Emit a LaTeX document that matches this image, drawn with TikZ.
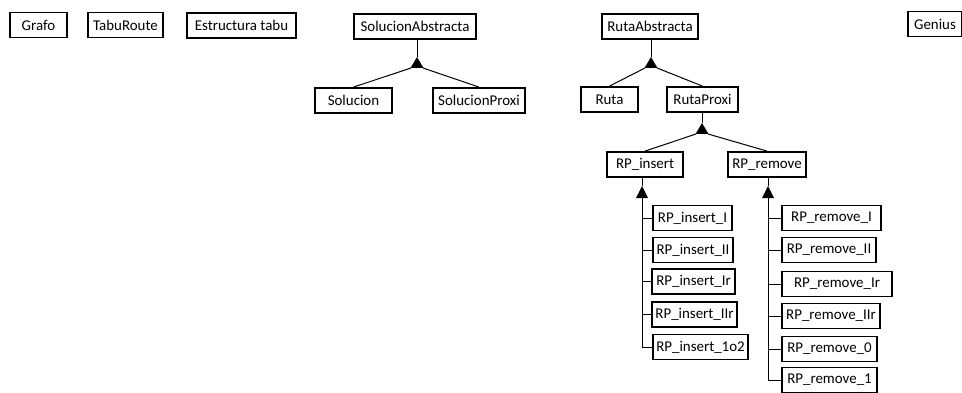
\documentclass[tikz,border=0pt]{standalone}
\usepackage{fontspec}
\setmainfont{Carlito}
\tikzset{every picture/.style={line width=0.75pt}}
\tikzset{clase/.style={draw, line width=1.1pt, inner sep=0pt, minimum height=19pt, minimum width=#1*0.75pt, font=\fontsize{11.2}{13}\selectfont}}
\tikzset{herencia/.style={fill=black}}

\begin{document}
\begin{tikzpicture}[x=0.75pt,y=0.75pt,yscale=-1,xscale=1]
\useasboundingbox (0,0) rectangle (962,392);
% Clases sueltas
\node[clase=57] (grafo) at (38.5,25) {Grafo};
\node[clase=75] (taburoute) at (125.5,25) {TabuRoute};
\node[clase=109] (estructura) at (241.5,25.5) {Estructura tabu};
\node[clase=54] (genius) at (935,24) {Genius};
% Solucion
\node[clase=122] (solAbs) at (415,26.5) {SolucionAbstracta};
\node[clase=77] (sol) at (353.5,100.5) {Solucion};
\node[clase=92] (solProxi) at (479,100.5) {SolucionProxi};
% Ruta
\node[clase=96] (rutaAbs) at (650,26.5) {RutaAbstracta};
\node[clase=57] (ruta) at (609.5,99.5) {Ruta};
\node[clase=71] (rutaProxi) at (702.5,99.5) {RutaProxi};
\node[clase=76] (rpInsert) at (645,164.5) {RP\_insert};
\node[clase=78] (rpRemove) at (767,164.5) {RP\_remove};
% RP_insert
\node[clase=79] (insI) at (692.5,218) {RP\_insert\_I};
\node[clase=80] (insII) at (693,250) {RP\_insert\_II};
\node[clase=83] (insIr) at (693.5,281.5) {RP\_insert\_Ir};
\node[clase=85] (insIIr) at (694.5,314.5) {RP\_insert\_IIr};
\node[clase=95] (ins1o2) at (700.5,347) {RP\_insert\_1o2};
% RP_remove
\node[clase=99] (remI) at (831.5,218) {RP\_remove\_I};
\node[clase=94] (remII) at (829,250) {RP\_remove\_II};
\node[clase=110] (remIr) at (837,284) {RP\_remove\_Ir};
\node[clase=98] (remIIr) at (831,316) {RP\_remove\_IIr};
\node[clase=95] (rem0) at (829.5,349) {RP\_remove\_0};
\node[clase=95] (rem1) at (829.5,380) {RP\_remove\_1};

% Herencia SolucionAbstracta
\coordinate (hSol) at (417,57);
\draw (solAbs.south -| hSol) -- (hSol);
\fill[herencia] (hSol) -- ++(-6.5,11) -- ++(13,0) -- cycle;
\draw (hSol) ++(-6,11) -- (sol.north);
\draw (hSol) ++(6,11) -- (solProxi.north);
% Herencia RutaAbstracta
\coordinate (hRuta) at (651,57);
\draw (rutaAbs.south -| hRuta) -- (hRuta);
\fill[herencia] (hRuta) -- ++(-6.5,11) -- ++(13,0) -- cycle;
\draw (hRuta) ++(-6,11) -- (ruta.north);
\draw (hRuta) ++(6,11) -- (rutaProxi.north);
% Herencia RutaProxi
\coordinate (hProxi) at (702,123);
\draw (rutaProxi.south -| hProxi) -- (hProxi);
\fill[herencia] (hProxi) -- ++(-6.5,11) -- ++(13,0) -- cycle;
\draw (hProxi) ++(-6,11) -- (rpInsert.north);
\draw (hProxi) ++(6,11) -- (rpRemove.north);
% Herencia RP_insert
\coordinate (insT) at (642,186);
\draw (insT |- rpInsert.south) -- (insT);
\fill[herencia] (insT) -- ++(-6,12) -- ++(12,0) -- cycle;
\draw (insT) ++(0,12) -- (insT |- ins1o2.west) -- (ins1o2.west);
\foreach \n in {insI,insII,insIr,insIIr}
  \draw (insT |- \n.west) -- (\n.west);
% Herencia RP_remove
\coordinate (remT) at (768,186);
\draw (remT |- rpRemove.south) -- (remT);
\fill[herencia] (remT) -- ++(-6,12) -- ++(12,0) -- cycle;
\draw (remT) ++(0,12) -- (remT |- rem1.west) -- (rem1.west);
\foreach \n in {remI,remII,remIr,remIIr,rem0}
  \draw (remT |- \n.west) -- (\n.west);
\end{tikzpicture}
\end{document}
